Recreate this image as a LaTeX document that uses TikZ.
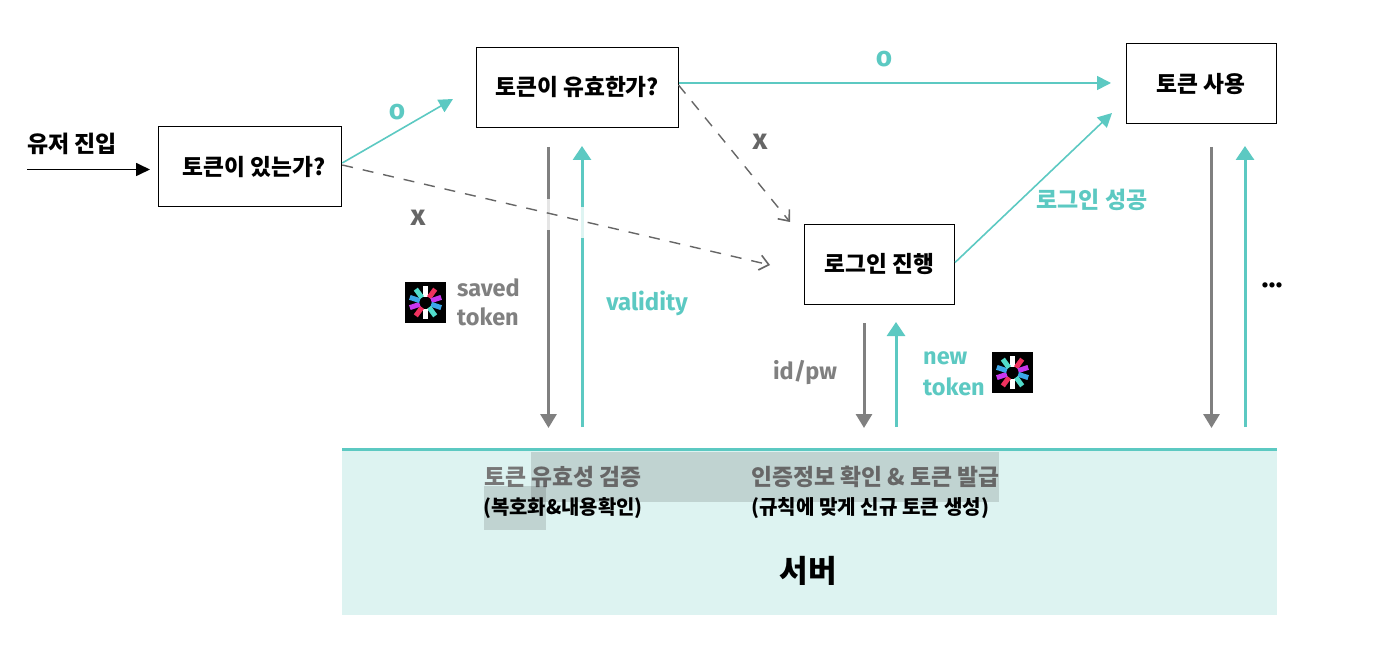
\documentclass[tikz,border=0pt]{standalone}
\usepackage{fontspec}
\setmainfont{Noto Sans CJK KR}
\newfontfamily\lat{Fira Sans}
\usetikzlibrary{arrows.meta}
\definecolor{tealc}{HTML}{5CC9C2}
\definecolor{lightc}{HTML}{DDF3F1}
\definecolor{grayc}{HTML}{808080}
\definecolor{dgray}{HTML}{666666}
\definecolor{sgray}{HTML}{777777}
\definecolor{jred}{HTML}{F0325F}
\definecolor{jpurple}{HTML}{C837EE}
\definecolor{jblue}{HTML}{3CA7E8}
\definecolor{jteal}{HTML}{52DCCB}
\newcommand{\fs}[1]{\fontsize{#1pt}{#1pt}\selectfont\bfseries}
\newcommand{\jwtlogo}[3]{%
  \node[fill=black,minimum size=41pt,inner sep=0pt] (#1) at (#2,#3) {};
  \foreach \ang/\col in {90/white,54/jred,18/jpurple,-18/jblue,-54/jteal,-90/white,-126/jred,-162/jpurple,162/jblue,126/jteal}
    \draw[\col,line width=5pt] (#2,#3) ++(\ang:6pt) -- ++(\ang:10.5pt);
}
\tikzset{
  box/.style={draw=black,line width=1pt,fill=white,inner sep=0pt,font=\fs{22.7}},
  tealarrow/.style={draw=tealc,line width=1.6pt,-{Triangle[length=14pt,width=14pt]}},
  grayarrow/.style={draw=grayc,line width=3pt,-{Triangle[length=14pt,width=16pt]}},
  tealvert/.style={draw=tealc,line width=3pt,-{Triangle[length=14pt,width=18pt]}},
  dashline/.style={draw=dgray,line width=1.4pt,dash pattern=on 11pt off 10pt,-{Straight Barb[length=9pt,width=15pt,line width=1.6pt]}},
  lbl/.style={inner sep=0pt,font=\fs{23}},
  tl/.style={lbl,text=tealc},
  gl/.style={lbl,text=grayc},
}
\begin{document}
\begin{tikzpicture}[x=1pt,y=-1pt]
\useasboundingbox (0,0) rectangle (1396,652);
% server
\node[fill=lightc,minimum width=934.5pt,minimum height=165pt,inner sep=0pt] (server) at (809.25,532) {};
\coordinate (sl) at (342,449);
\coordinate (sr) at (1276.5,449);
\draw[tealc,line width=3pt] (sl) -- (sr);
% boxes
\node[box,minimum width=183.5pt,minimum height=80pt] (a) at (250,167) {\raisebox{-1pt}{\hspace{8pt}토큰이 있는가?}};
\node[box,minimum width=201.5pt,minimum height=80pt] (b) at (577.25,87.5) {\raisebox{-1pt}{토큰이 유효한가?}};
\node[box,minimum width=150.5pt,minimum height=80pt] (c) at (879.25,264.5) {\raisebox{-1pt}{로그인 진행}};
\node[box,minimum width=150.5pt,minimum height=80pt] (d) at (1201.25,84) {\raisebox{-1pt}{토큰 사용}};
% coordinates
\coordinate (in0) at (27,169.5);
\coordinate (in1) at (150,169.5);
\coordinate (aT) at (453,99);
\coordinate (dL) at (1111,83);
\coordinate (dB) at (1112,113);
\coordinate (cT) at (790,222);
\coordinate (cL) at (770,265);
\foreach \n/\x/\ya/\yb in {g1/548.5/147/428,t1/582/427/146,g2/864/323/428,t2/896/427/322,g3/1211.5/147/428,t3/1245/427/146}
  \coordinate (\n s) at (\x,\ya);
\foreach \n/\x/\ya/\yb in {g1/548.5/147/428,t1/582/427/146,g2/864/323/428,t2/896/427/322,g3/1211.5/147/428,t3/1245/427/146}
  \coordinate (\n e) at (\x,\yb);
% vertical arrows
\draw[grayarrow] (g1s) -- (g1e);
\draw[tealvert] (t1s) -- (t1e);
\draw[grayarrow] (g2s) -- (g2e);
\draw[tealvert] (t2s) -- (t2e);
\draw[grayarrow] (g3s) -- (g3e);
\draw[tealvert] (t3s) -- (t3e);
% fade bands
\fill[white,opacity=.8] (544,199) rectangle (553,230);
\fill[white,opacity=.8] (578,207) rectangle (586,238);
% connectors
\draw[black,line width=1.7pt,-{Triangle[length=14pt,width=13pt]}] (in0) -- (in1);
\draw[tealarrow] ([yshift=4pt]a.east) -- (aT);
\draw[tealarrow] ([yshift=4.5pt]b.east) -- (dL);
\draw[tealarrow] ([yshift=2pt]c.east) -- (dB);
\draw[dashline] ([yshift=2pt]a.east) -- (cL);
\draw[dashline] ([yshift=2.5pt]b.east) -- (cT);
% labels
\node[lbl,text=black] (t0) at (72,144) {유저 진입};
\node[tl,font=\lat\fs{28}] (o1) at (397,112) {o};
\node[tl,font=\lat\fs{28}] (o2) at (884,59) {o};
\node[lbl,text=dgray,font=\lat\fs{29}] (x1) at (418,217.5) {x};
\node[lbl,text=dgray,font=\lat\fs{29}] (x2) at (760,141.5) {x};
\node[tl] (succ) at (1092,200) {로그인 성공};
\node[gl,anchor=west,font=\lat\fs{23.5}] (s1) at (457,288) {saved};
\node[gl,anchor=west,font=\lat\fs{23.5}] (s2) at (457,317) {token};
\node[tl,font=\lat\fs{24}] (val) at (647,303) {validity};
\node[gl,font=\lat\fs{23.5}] (idpw) at (805,373) {id/pw};
\node[tl,anchor=west,font=\lat\fs{23.5}] (n1) at (923,358) {new};
\node[tl,anchor=west,font=\lat\fs{23.5}] (n2) at (923,387) {token};
\node[lbl,text=black,font=\lat\fs{29}] (dots) at (1272,285) {...};
\jwtlogo{logoa}{425.5}{302.5}
\jwtlogo{logob}{1012.5}{372.5}
% server text
\node[lbl,text=sgray,anchor=west,font=\fs{22.8}] (v1) at (484,477) {토큰 유효성 검증};
\node[lbl,text=black,anchor=west,font=\fs{19.9}] (v2) at (483,508) {(복호화\&내용확인)};
\node[lbl,text=sgray,anchor=west,font=\fs{22.8}] (w1) at (751,477) {인증정보 확인 \& 토큰 발급};
\node[lbl,text=black,anchor=west,font=\fs{20.1}] (w2) at (751,508) {(규칙에 맞게 신규 토큰 생성)};
\node[lbl,text=black,font=\fs{31}] (srv) at (808,571) {서버};
% overlays
\fill[black,opacity=.13] (531,452) rectangle (999,502);
\fill[black,opacity=.13] (484,486) rectangle (546,530);
\end{tikzpicture}
\end{document}
